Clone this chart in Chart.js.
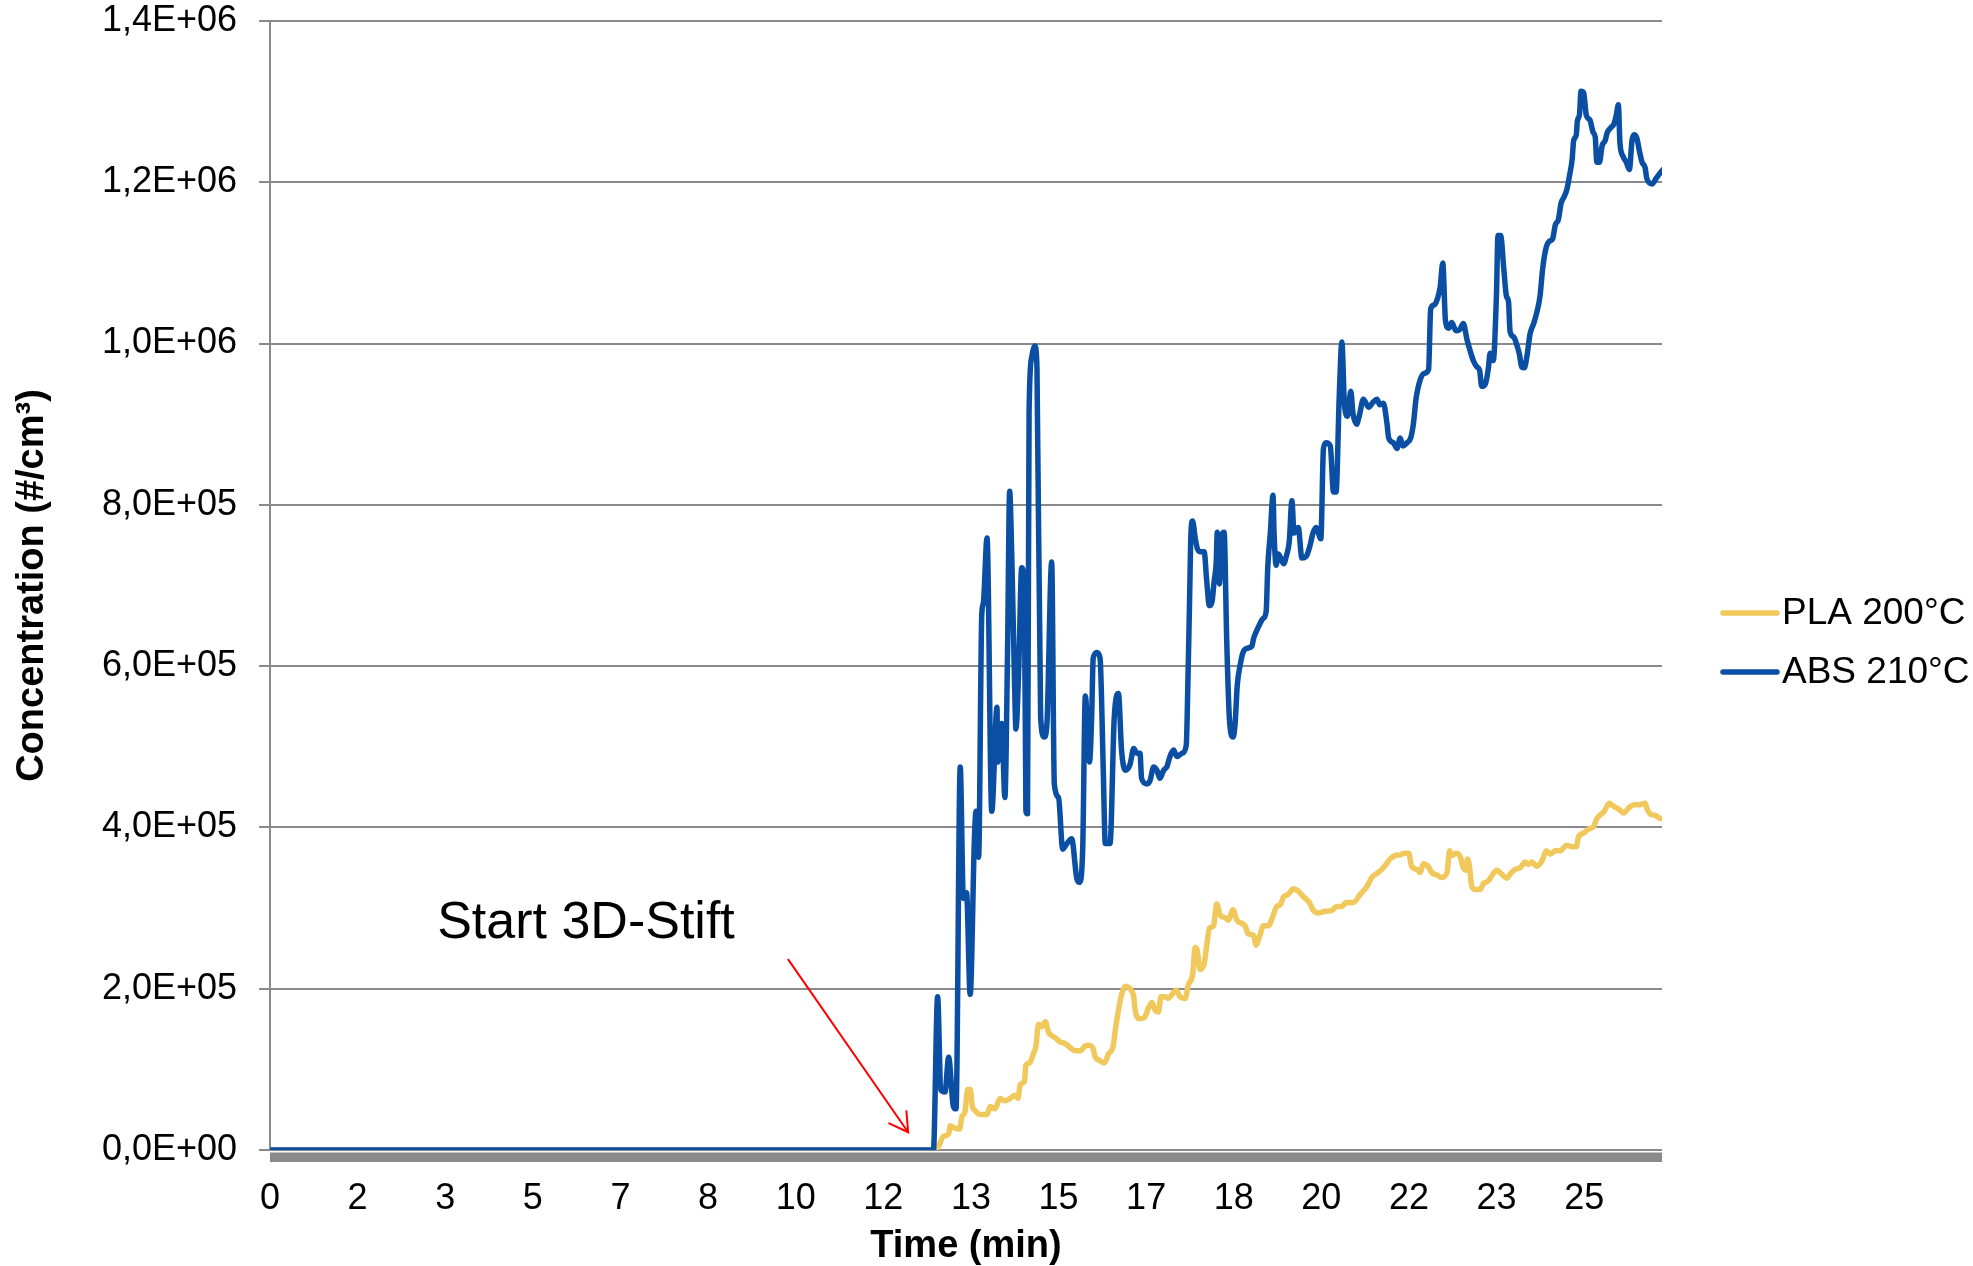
<!DOCTYPE html>
<html>
<head>
<meta charset="utf-8">
<script src="https://cdn.jsdelivr.net/npm/chart.js@4.4.1/dist/chart.umd.min.js"></script>
<style>
  html, body { margin: 0; padding: 0; background: #ffffff; }
  canvas { display: block; }
</style>
</head>
<body>
<canvas id="chart" width="1973" height="1266"></canvas>
<script>
// Particle number concentration measured while a 3D pen extrudes PLA and ABS.
// Time in minutes, concentration in particles per cm³.

// x-axis labels: one every 100 s, shown as whole minutes
const xTickLabels = ['0', '2', '3', '5', '7', '8', '10', '12', '13', '15', '17', '18', '20', '22', '23', '25'];
const xTickStepMin = 100 / 60;
const xMaxMin = 26.48;

const seriesNames = ['PLA 200°C', 'ABS 210°C'];

const plaTime = [
  0, 12.66, 12.72, 12.81, 12.91, 12.94, 13.03, 13.12, 13.16, 13.22,
  13.27, 13.32, 13.36, 13.41, 13.51, 13.64, 13.70, 13.79, 13.89, 13.98,
  14.08, 14.17, 14.23, 14.27, 14.35, 14.38, 14.45, 14.52, 14.57, 14.62,
  14.68, 14.75, 14.81, 14.87, 14.94, 15.03, 15.13, 15.22, 15.32, 15.41,
  15.51, 15.57, 15.65, 15.70, 15.76, 15.87, 15.95, 16.04, 16.08, 16.14,
  16.20, 16.27, 16.36, 16.43, 16.46, 16.52, 16.58, 16.65, 16.71, 16.78,
  16.84, 16.90, 16.95, 17.03, 17.09, 17.16, 17.24, 17.31, 17.41, 17.47,
  17.55, 17.60, 17.64, 17.69, 17.77, 17.82, 17.87, 17.95, 17.98, 18.01,
  18.07, 18.17, 18.23, 18.32, 18.39, 18.49, 18.55, 18.61, 18.71, 18.76,
  18.82, 18.90, 18.99, 19.09, 19.15, 19.22, 19.28, 19.37, 19.47, 19.56,
  19.66, 19.77, 19.85, 19.94, 20.07, 20.20, 20.29, 20.39, 20.47, 20.61,
  20.74, 20.87, 20.96, 21.06, 21.18, 21.31, 21.40, 21.50, 21.59, 21.66,
  21.72, 21.82, 21.88, 21.94, 22.04, 22.10, 22.20, 22.29, 22.39, 22.44,
  22.48, 22.56, 22.64, 22.70, 22.75, 22.78, 22.82, 22.86, 22.93, 23.02,
  23.08, 23.18, 23.24, 23.34, 23.43, 23.53, 23.59, 23.69, 23.78, 23.88,
  23.94, 24.00, 24.10, 24.20, 24.28, 24.35, 24.45, 24.54, 24.67, 24.77,
  24.85, 24.89, 24.99, 25.08, 25.18, 25.24, 25.30, 25.38, 25.48, 25.54,
  25.65, 25.75, 25.86, 25.95, 26.03, 26.16, 26.20, 26.27, 26.35, 26.45,
  26.50
];
const plaConc = [
  0, 0, 5e3, 17e3, 20e3, 30e3, 27e3, 26e3, 41e3, 47e3,
  75e3, 75e3, 54e3, 49e3, 44e3, 44e3, 54e3, 51e3, 64e3, 61e3,
  64e3, 68e3, 64e3, 81e3, 85e3, 105e3, 108e3, 119e3, 129e3, 156e3,
  153e3, 159e3, 146e3, 142e3, 139e3, 134e3, 132e3, 127e3, 123e3, 123e3,
  129e3, 130e3, 127e3, 115e3, 112e3, 108e3, 119e3, 129e3, 149e3, 173e3,
  193e3, 203e3, 200e3, 190e3, 173e3, 163e3, 163e3, 166e3, 176e3, 183e3,
  173e3, 171e3, 190e3, 190e3, 188e3, 193e3, 198e3, 190e3, 188e3, 205e3,
  217e3, 251e3, 247e3, 224e3, 231e3, 254e3, 275e3, 278e3, 292e3, 305e3,
  292e3, 288e3, 285e3, 298e3, 285e3, 281e3, 278e3, 268e3, 266e3, 254e3,
  264e3, 278e3, 278e3, 292e3, 302e3, 304e3, 314e3, 317e3, 324e3, 321e3,
  314e3, 307e3, 297e3, 294e3, 296e3, 297e3, 302e3, 302e3, 307e3, 307e3,
  317e3, 327e3, 338e3, 343e3, 350e3, 361e3, 365e3, 366e3, 368e3, 368e3,
  351e3, 348e3, 344e3, 355e3, 351e3, 344e3, 341e3, 338e3, 344e3, 371e3,
  365e3, 368e3, 364e3, 350e3, 347e3, 361e3, 350e3, 327e3, 323e3, 323e3,
  330e3, 334e3, 340e3, 347e3, 342e3, 337e3, 342e3, 348e3, 350e3, 357e3,
  354e3, 357e3, 352e3, 359e3, 371e3, 367e3, 371e3, 371e3, 378e3, 376e3,
  376e3, 388e3, 393e3, 398e3, 401e3, 411e3, 415e3, 420e3, 430e3, 427e3,
  423e3, 418e3, 425e3, 428e3, 428e3, 430e3, 422e3, 416e3, 415e3, 411e3,
  411e3
];

const absTime = [
  0, 12.62, 12.70, 12.76, 12.84, 12.91, 13.00, 13.05, 13.13, 13.19,
  13.25, 13.32, 13.40, 13.43, 13.48, 13.54, 13.57, 13.64, 13.73, 13.83,
  13.84, 13.92, 13.98, 14.03, 14.07, 14.11, 14.16, 14.19, 14.24, 14.30,
  14.35, 14.38, 14.41, 14.44, 14.49, 14.55, 14.59, 14.66, 14.73, 14.78,
  14.87, 14.92, 15.00, 15.08, 15.16, 15.25, 15.35, 15.40, 15.46, 15.51,
  15.59, 15.63, 15.66, 15.73, 15.79, 15.85, 15.89, 15.98, 16.06, 16.14,
  16.20, 16.27, 16.36, 16.43, 16.49, 16.55, 16.58, 16.68, 16.74, 16.81,
  16.87, 16.93, 17.00, 17.06, 17.12, 17.19, 17.25, 17.35, 17.43, 17.46,
  17.49, 17.52, 17.55, 17.60, 17.64, 17.69, 17.77, 17.82, 17.87, 17.92,
  17.96, 18.00, 18.02, 18.06, 18.11, 18.15, 18.20, 18.25, 18.32, 18.36,
  18.40, 18.46, 18.51, 18.58, 18.68, 18.71, 18.77, 18.82, 18.89, 18.95,
  18.98, 19.03, 19.08, 19.10, 19.14, 19.18, 19.22, 19.28, 19.34, 19.39,
  19.44, 19.48, 19.56, 19.63, 19.71, 19.79, 19.84, 19.90, 19.99, 20.04,
  20.09, 20.17, 20.23, 20.28, 20.34, 20.39, 20.44, 20.50, 20.56, 20.60,
  20.67, 20.72, 20.80, 20.90, 20.98, 21.06, 21.11, 21.18, 21.25, 21.28,
  21.37, 21.44, 21.50, 21.55, 21.63, 21.70, 21.75, 21.80, 21.88, 21.96,
  22.04, 22.08, 22.15, 22.21, 22.26, 22.31, 22.36, 22.42, 22.48, 22.56,
  22.64, 22.70, 22.77, 22.83, 22.89, 22.96, 23.01, 23.05, 23.12, 23.18,
  23.21, 23.27, 23.33, 23.36, 23.41, 23.47, 23.52, 23.56, 23.59, 23.66,
  23.72, 23.77, 23.81, 23.86, 23.91, 23.97, 24.04, 24.10, 24.16, 24.21,
  24.28, 24.34, 24.40, 24.45, 24.51, 24.56, 24.61, 24.67, 24.72, 24.77,
  24.80, 24.85, 24.87, 24.91, 24.94, 24.99, 25.04, 25.11, 25.17, 25.21,
  25.24, 25.29, 25.34, 25.40, 25.44, 25.51, 25.57, 25.61, 25.65, 25.68,
  25.74, 25.80, 25.86, 25.91, 25.95, 26.00, 26.05, 26.10, 26.16, 26.19,
  26.29, 26.37, 26.45, 26.50
];
const absConc = [
  0, 0, 190e3, 75e3, 72e3, 115e3, 54e3, 51e3, 475e3, 312e3,
  319e3, 193e3, 386e3, 420e3, 363e3, 664e3, 678e3, 759e3, 420e3, 549e3,
  481e3, 529e3, 437e3, 617e3, 817e3, 739e3, 590e3, 522e3, 590e3, 722e3,
  698e3, 420e3, 417e3, 915e3, 983e3, 997e3, 970e3, 536e3, 512e3, 529e3,
  729e3, 454e3, 437e3, 373e3, 380e3, 386e3, 336e3, 332e3, 373e3, 563e3,
  481e3, 536e3, 610e3, 617e3, 610e3, 475e3, 380e3, 380e3, 536e3, 566e3,
  495e3, 471e3, 478e3, 498e3, 492e3, 492e3, 461e3, 454e3, 458e3, 475e3,
  471e3, 461e3, 471e3, 475e3, 488e3, 496e3, 488e3, 492e3, 502e3, 576e3,
  671e3, 766e3, 780e3, 759e3, 746e3, 742e3, 742e3, 705e3, 675e3, 680e3,
  705e3, 729e3, 766e3, 702e3, 763e3, 766e3, 631e3, 536e3, 512e3, 529e3,
  576e3, 603e3, 617e3, 622e3, 625e3, 634e3, 644e3, 651e3, 659e3, 668e3,
  722e3, 766e3, 812e3, 766e3, 725e3, 739e3, 735e3, 727e3, 738e3, 755e3,
  805e3, 765e3, 772e3, 734e3, 736e3, 751e3, 765e3, 772e3, 758e3, 870e3,
  877e3, 873e3, 816e3, 816e3, 934e3, 1002e3, 924e3, 910e3, 941e3, 914e3,
  900e3, 910e3, 931e3, 921e3, 927e3, 931e3, 924e3, 926e3, 900e3, 883e3,
  877e3, 870e3, 883e3, 873e3, 877e3, 883e3, 900e3, 931e3, 955e3, 963e3,
  968e3, 1043e3, 1048e3, 1056e3, 1070e3, 1100e3, 1029e3, 1019e3, 1026e3, 1016e3,
  1018e3, 1025e3, 1005e3, 991e3, 979e3, 971e3, 967e3, 947e3, 950e3, 971e3,
  988e3, 979e3, 1059e3, 1134e3, 1134e3, 1093e3, 1059e3, 1052e3, 1015e3, 1008e3,
  998e3, 986e3, 971e3, 970e3, 984e3, 1012e3, 1025e3, 1039e3, 1059e3, 1093e3,
  1120e3, 1127e3, 1130e3, 1147e3, 1154e3, 1174e3, 1181e3, 1191e3, 1208e3, 1228e3,
  1252e3, 1259e3, 1276e3, 1284e3, 1313e3, 1311e3, 1283e3, 1277e3, 1262e3, 1256e3,
  1225e3, 1225e3, 1245e3, 1252e3, 1262e3, 1268e3, 1273e3, 1283e3, 1296e3, 1249e3,
  1232e3, 1225e3, 1216e3, 1252e3, 1259e3, 1255e3, 1239e3, 1225e3, 1218e3, 1205e3,
  1198e3, 1205e3, 1212e3, 1216e3
];

const FONT = '"Liberation Sans", Arial, Helvetica, sans-serif';
const PLA_COLOR = '#F1C85B';
const ABS_COLOR = '#0A4FA3';
const AXIS_GREY = '#8A8A8A';

// "Start 3D-Stift" note with its arrow, placed in data units
const startNote = {
  text: 'Start 3D-Stift',
  at: { x: 3.18, y: 263e3 },
  arrowTail: { x: 9.86, y: 236e3 },
  arrowTip: { x: 12.14, y: 22e3 }
};

function toPoints(xs, ys) {
  return xs.map((x, i) => ({ x: x, y: ys[i] }));
}

// 1.4E6 -> "1,4E+06"
function sciComma(v) {
  if (v === 0) return '0,0E+00';
  const e = Math.floor(Math.log10(v) + 1e-9);
  const m = v / Math.pow(10, e);
  return m.toFixed(1).replace('.', ',') + 'E+' + String(e).padStart(2, '0');
}

// thick grey base strip under the zero line
const baseStrip = {
  id: 'baseStrip',
  beforeDatasetsDraw(chart) {
    const { ctx, chartArea, scales } = chart;
    const y0 = scales.y.getPixelForValue(0);
    ctx.save();
    ctx.fillStyle = AXIS_GREY;
    ctx.fillRect(chartArea.left, y0 + 2.5, chartArea.right - chartArea.left, 9.5);
    ctx.restore();
  }
};

const noteLayer = {
  id: 'noteLayer',
  afterDatasetsDraw(chart) {
    const { ctx, scales } = chart;
    const px = p => ({ x: scales.x.getPixelForValue(p.x), y: scales.y.getPixelForValue(p.y) });
    const t = px(startNote.at);
    const a = px(startNote.arrowTail);
    const b = px(startNote.arrowTip);
    ctx.save();
    ctx.fillStyle = '#000000';
    ctx.font = '52px ' + FONT;
    ctx.textBaseline = 'alphabetic';
    ctx.textAlign = 'left';
    ctx.fillText(startNote.text, t.x, t.y);

    ctx.strokeStyle = '#FF0000';
    ctx.lineWidth = 2;
    ctx.lineCap = 'round';
    ctx.beginPath();
    ctx.moveTo(a.x, a.y);
    ctx.lineTo(b.x, b.y);
    const ang = Math.atan2(a.y - b.y, a.x - b.x);
    const head = 21, spread = Math.PI / 6;
    ctx.moveTo(b.x + head * Math.cos(ang - spread), b.y + head * Math.sin(ang - spread));
    ctx.lineTo(b.x, b.y);
    ctx.lineTo(b.x + head * Math.cos(ang + spread), b.y + head * Math.sin(ang + spread));
    ctx.stroke();
    ctx.restore();
  }
};

// legend on the right: short line sample + series name
const sideLegend = {
  id: 'sideLegend',
  afterDraw(chart) {
    const { ctx, chartArea } = chart;
    const x0 = chartArea.right + 61;
    const yFirst = 613, rowGap = 59, sample = 54;
    ctx.save();
    ctx.font = '37px ' + FONT;
    ctx.textBaseline = 'middle';
    ctx.textAlign = 'left';
    seriesNames.forEach((name, i) => {
      const ds = chart.data.datasets.find(d => d.label === name);
      const y = yFirst + i * rowGap;
      ctx.strokeStyle = ds.borderColor;
      ctx.lineWidth = 5.5;
      ctx.lineCap = 'round';
      ctx.beginPath();
      ctx.moveTo(x0, y);
      ctx.lineTo(x0 + sample, y);
      ctx.stroke();
      ctx.fillStyle = '#000000';
      ctx.fillText(name, x0 + sample + 5, y + 1);
    });
    ctx.restore();
  }
};

new Chart(document.getElementById('chart'), {
  type: 'line',
  data: {
    datasets: [
      {
        label: seriesNames[0],
        data: toPoints(plaTime, plaConc),
        borderColor: PLA_COLOR,
        borderWidth: 5.5,
        order: 1
      },
      {
        label: seriesNames[1],
        data: toPoints(absTime, absConc),
        borderColor: ABS_COLOR,
        borderWidth: 5.5,
        order: 0
      }
    ]
  },
  options: {
    responsive: false,
    animation: false,
    devicePixelRatio: 1,
    parsing: false,
    layout: { padding: { left: 0, top: 21, right: 311, bottom: 0 } },
    elements: {
      point: { radius: 0 },
      line: {
        borderWidth: 5.5,
        borderJoinStyle: 'round',
        borderCapStyle: 'round',
        cubicInterpolationMode: 'monotone',
        fill: false
      }
    },
    plugins: {
      legend: { display: false },
      tooltip: { enabled: false }
    },
    scales: {
      x: {
        type: 'linear',
        min: 0,
        max: xMaxMin,
        afterBuildTicks(scale) {
          scale.ticks = xTickLabels.map((_, i) => ({ value: i * xTickStepMin }));
        },
        afterFit(scale) {
          scale.height = 116;
          scale.paddingLeft = 0;
          scale.paddingRight = 0;
        },
        grid: { display: false, drawTicks: false },
        border: { display: false },
        ticks: {
          autoSkip: false,
          maxRotation: 0,
          padding: 27,
          color: '#000000',
          font: { family: FONT, size: 36 },
          callback: (v, i) => xTickLabels[i]
        },
        title: {
          display: true,
          text: 'Time (min)',
          color: '#000000',
          font: { family: FONT, size: 38, weight: 'bold', lineHeight: 1 },
          padding: 0
        }
      },
      y: {
        type: 'linear',
        min: 0,
        max: 1400000,
        afterFit(scale) {
          scale.width = 270;
          scale.paddingTop = 0;
          scale.paddingBottom = 0;
        },
        grid: { color: AXIS_GREY, lineWidth: 2, drawTicks: true, tickLength: 11 },
        border: { color: AXIS_GREY, width: 2 },
        ticks: {
          stepSize: 200000,
          padding: 22,
          color: '#000000',
          font: { family: FONT, size: 36 },
          callback: v => sciComma(v)
        },
        title: {
          display: true,
          text: 'Concentration (#/cm³)',
          color: '#000000',
          font: { family: FONT, size: 38, weight: 'bold', lineHeight: 1 },
          padding: { top: 14, bottom: 0 }
        }
      }
    }
  },
  plugins: [baseStrip, noteLayer, sideLegend]
});
</script>
</body>
</html>
